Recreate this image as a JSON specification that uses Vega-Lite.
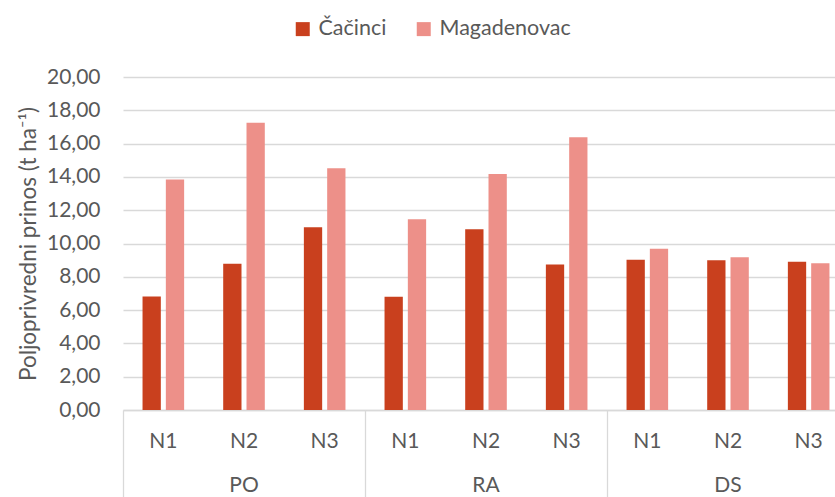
{
  "$schema": "https://vega.github.io/schema/vega-lite/v6.json",
  "width": 712,
  "height": 333,
  "autosize": {"type": "none"},
  "padding": {"left": 123, "top": 77, "right": 0, "bottom": 87},
  "config": {"font": "Lato", "view": {"stroke": null}},
  "data": {"values": [
    {"cat": "PO|N1", "series": "Čačinci", "value": 6.82},
    {"cat": "PO|N1", "series": "Magadenovac", "value": 13.85},
    {"cat": "PO|N2", "series": "Čačinci", "value": 8.78},
    {"cat": "PO|N2", "series": "Magadenovac", "value": 17.25},
    {"cat": "PO|N3", "series": "Čačinci", "value": 10.98},
    {"cat": "PO|N3", "series": "Magadenovac", "value": 14.52},
    {"cat": "RA|N1", "series": "Čačinci", "value": 6.80},
    {"cat": "RA|N1", "series": "Magadenovac", "value": 11.45},
    {"cat": "RA|N2", "series": "Čačinci", "value": 10.86},
    {"cat": "RA|N2", "series": "Magadenovac", "value": 14.18},
    {"cat": "RA|N3", "series": "Čačinci", "value": 8.74},
    {"cat": "RA|N3", "series": "Magadenovac", "value": 16.38},
    {"cat": "DS|N1", "series": "Čačinci", "value": 9.03},
    {"cat": "DS|N1", "series": "Magadenovac", "value": 9.68},
    {"cat": "DS|N2", "series": "Čačinci", "value": 9.00},
    {"cat": "DS|N2", "series": "Magadenovac", "value": 9.17},
    {"cat": "DS|N3", "series": "Čačinci", "value": 8.90},
    {"cat": "DS|N3", "series": "Magadenovac", "value": 8.82}
  ]},
  "encoding": {
    "y": {
      "field": "value", "type": "quantitative",
      "scale": {"domain": [0, 20]},
      "axis": {
        "values": [0, 2, 4, 6, 8, 10, 12, 14, 16, 18, 20],
        "labelExpr": "replace(format(datum.value, '.2f'), '.', ',')",
        "grid": true, "gridColor": "#D9D9D9", "gridWidth": 1.3,
        "domain": false, "ticks": false, "tickSize": 0,
        "labelPadding": 23, "labelFontSize": 21, "labelColor": "#595959",
        "title": "Poljoprivredni prinos (t ha⁻¹)",
        "titleFontSize": 22.5, "titleFontWeight": "normal", "titleColor": "#595959",
        "titlePadding": 6
      }
    }
  },
  "layer": [
    {
      "mark": {"type": "bar"},
      "encoding": {
        "x": {
          "field": "cat", "type": "nominal", "sort": null,
          "scale": {"range": [0, 726], "paddingInner": 0, "paddingOuter": 0},
          "axis": {
            "orient": "bottom", "title": null, "ticks": false,
            "domain": true, "domainColor": "#D9D9D9", "domainWidth": 1.3,
            "labelExpr": "split(datum.value, '|')[1]",
            "labelFontSize": 21, "labelColor": "#595959", "labelPadding": 20, "labelAngle": 0
          }
        },
        "xOffset": {
          "field": "series", "type": "nominal", "sort": ["Čačinci", "Magadenovac"],
          "scale": {"paddingInner": 0.215, "paddingOuter": 0.838}
        },
        "color": {
          "field": "series", "type": "nominal",
          "scale": {"domain": ["Čačinci", "Magadenovac"], "range": ["#C9401E", "#ED9089"]},
          "legend": {
            "orient": "none", "legendX": 169, "legendY": -59, "direction": "horizontal",
            "title": null, "symbolType": "square", "symbolSize": 196, "symbolStrokeWidth": 0,
            "symbolOpacity": 1,
            "labelFontSize": 21.5, "labelColor": "#595959", "columnPadding": 26, "labelOffset": 5
          }
        }
      }
    },
    {
      "mark": {"type": "bar", "opacity": 0},
      "encoding": {
        "x": {
          "field": "cat", "type": "nominal", "sort": null,
          "axis": {
            "orient": "bottom", "title": null,
            "values": ["PO|N1", "RA|N1", "DS|N1"],
            "bandPosition": 0, "tickExtra": false,
            "labels": false, "domain": false, "ticks": true,
            "tickSize": 87, "tickColor": "#D9D9D9", "tickWidth": 1.3
          }
        }
      }
    },
    {
      "mark": {"type": "bar", "opacity": 0},
      "encoding": {
        "x": {
          "field": "cat", "type": "nominal", "sort": null,
          "axis": {
            "orient": "bottom", "title": null,
            "values": ["PO|N2", "RA|N2", "DS|N2"],
            "ticks": false, "domain": false,
            "labelExpr": "split(datum.value, '|')[0]",
            "labelFontSize": 21, "labelColor": "#595959", "labelPadding": 64, "labelAngle": 0
          }
        }
      }
    }
  ],
  "resolve": {"axis": {"x": "independent"}}
}
